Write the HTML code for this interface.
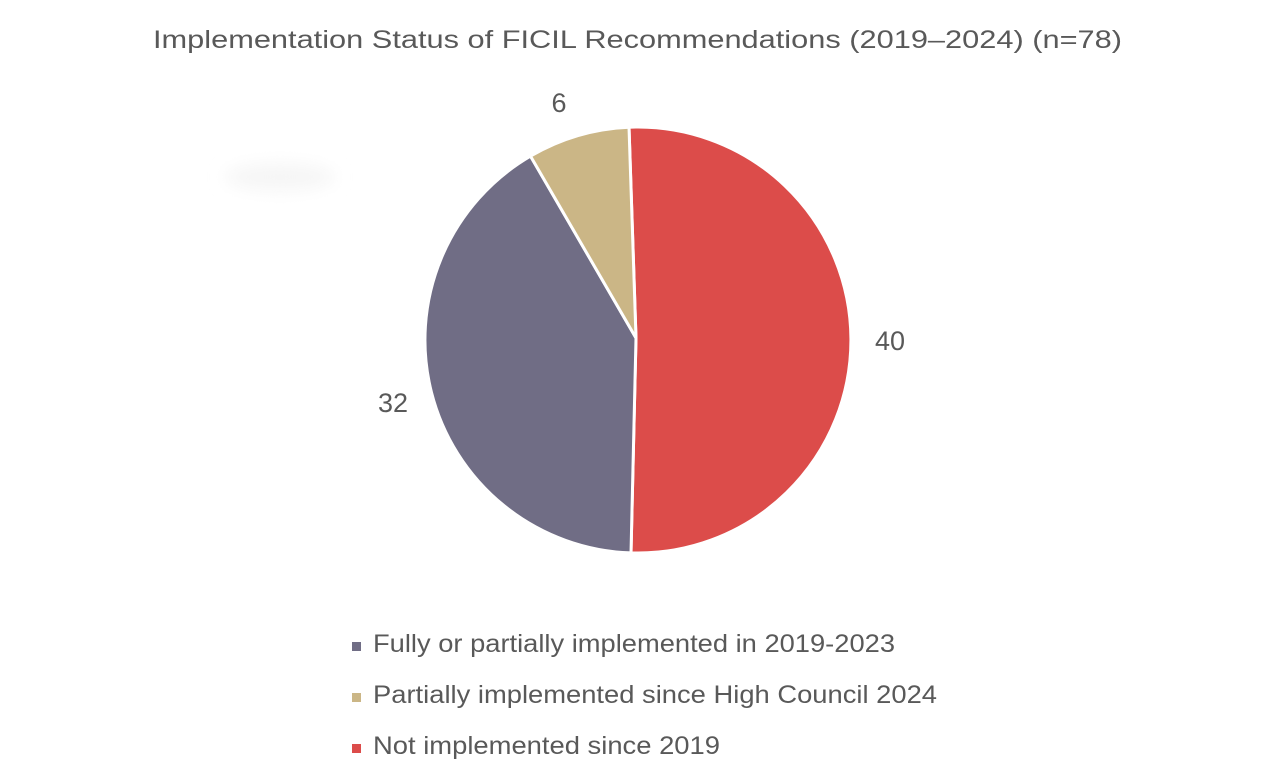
<!DOCTYPE html>
<html>
<head>
<meta charset="utf-8">
<style>
  html,body{margin:0;padding:0;background:#ffffff;}
  body{width:1280px;height:779px;overflow:hidden;}
  svg{display:block;}
  text{font-family:"Liberation Sans", Arial, sans-serif;fill:#595959;}
</style>
</head>
<body>
<svg width="1280" height="779" viewBox="0 0 1280 779" xmlns="http://www.w3.org/2000/svg">
  <defs>
    <filter id="blur" x="-50%" y="-50%" width="200%" height="200%">
      <feGaussianBlur stdDeviation="8"/>
    </filter>
  </defs>
  <rect x="0" y="0" width="1280" height="779" fill="#ffffff"/>

  <!-- faint smudge -->
  <ellipse cx="280" cy="177" rx="55" ry="14" fill="#f6f6f6" filter="url(#blur)"/>

  <!-- Title -->
  <text x="153" y="48" font-size="25" textLength="969" lengthAdjust="spacingAndGlyphs">Implementation Status of FICIL Recommendations (2019–2024) (n=78)</text>

  <!-- Pie -->
  <g stroke="#ffffff" stroke-width="3" stroke-linejoin="round">
    <path d="M636 338 L629 127.2 A213 213 0 1 1 631 552.9 Z" fill="#DC4C4A"/>
    <path d="M636 338 L631 552.9 A213 213 0 0 1 530.5 156.1 Z" fill="#706D85"/>
    <path d="M636 338 L530.5 156.1 A213 213 0 0 1 629 127.2 Z" fill="#CBB686"/>
  </g>

  <!-- Data labels -->
  <text x="559" y="112" font-size="27" text-anchor="middle">6</text>
  <text x="890" y="350" font-size="27" text-anchor="middle">40</text>
  <text x="393" y="412" font-size="27" text-anchor="middle">32</text>

  <!-- Legend -->
  <rect x="352" y="642" width="9" height="9" fill="#706D85"/>
  <text x="373" y="652" font-size="25" textLength="522" lengthAdjust="spacingAndGlyphs">Fully or partially implemented in 2019-2023</text>

  <rect x="352" y="693" width="9" height="9" fill="#CBB686"/>
  <text x="373" y="703" font-size="25" textLength="564" lengthAdjust="spacingAndGlyphs">Partially implemented since High Council 2024</text>

  <rect x="352" y="744" width="9" height="9" fill="#DC4C4A"/>
  <text x="373" y="754" font-size="25" textLength="347" lengthAdjust="spacingAndGlyphs">Not implemented since 2019</text>
</svg>
</body>
</html>
